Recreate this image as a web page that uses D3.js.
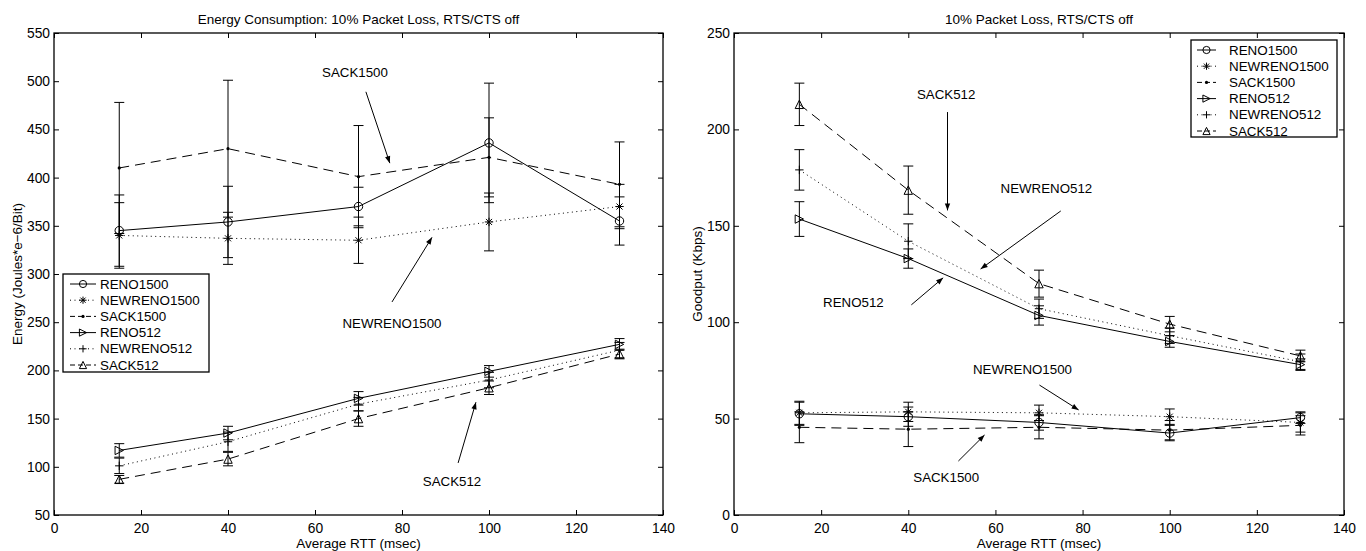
<!DOCTYPE html>
<html>
<head>
<meta charset="utf-8">
<script src="https://cdn.jsdelivr.net/npm/d3@7"></script>
<style>
  html, body { margin: 0; padding: 0; background: #fff; }
  svg { display: block; font-family: "Liberation Sans", Arial, sans-serif; }
</style>
</head>
<body>
<svg id="chart" width="1366" height="551"></svg>
<script>
// ---------------- DATA ----------------
const rtt = [15, 40, 70, 100, 130];
const seriesNames = ["RENO1500", "NEWRENO1500", "SACK1500", "RENO512", "NEWRENO512", "SACK512"];
const xTicks = [0, 20, 40, 60, 80, 100, 120, 140];
const energyTicks = [50, 100, 150, 200, 250, 300, 350, 400, 450, 500, 550];
const goodputTicks = [0, 50, 100, 150, 200, 250];

// Energy (Joules*e-6/Bit) mean and error half-width
const energyReno1500 = [345, 354, 370, 436, 355];
const energyReno1500Err = [37, 37, 20, 62, 25];
const energyNewreno1500 = [340, 337, 335, 354, 370];
const energyNewreno1500Err = [34, 27, 24, 30, 23];
const energySack1500 = [410, 430, 401, 421, 393];
const energySack1500Err = [68, 71, 53, 41, 44];
const energyReno512 = [117, 135, 171, 199, 227];
const energyReno512Err = [7, 7, 7, 6, 6];
const energyNewreno512 = [101, 126, 165, 190, 221];
const energyNewreno512Err = [8, 10, 7, 8, 8];
const energySack512 = [87, 108, 150, 182, 217];
const energySack512Err = [4, 7, 8, 7, 5];

// Goodput (Kbps) mean and error half-width
const goodReno1500 = [52.5, 51, 48, 42.5, 50.5];
const goodReno1500Err = [6, 5, 4, 4, 3];
const goodNewreno1500 = [53, 53.5, 53, 51, 48];
const goodNewreno1500Err = [6, 5, 4, 4, 5];
const goodSack1500 = [45.5, 44.5, 45.5, 44, 46.5];
const goodSack1500Err = [8, 9, 6, 5, 5];
const goodReno512 = [153.5, 133, 103.5, 90, 78];
const goodReno512Err = [9, 5, 5, 3, 3];
const goodNewreno512 = [179, 142, 107, 93, 79.5];
const goodNewreno512Err = [10.5, 9, 5, 4, 4];
const goodSack512 = [213, 168.5, 120, 99, 82.5];
const goodSack512Err = [11, 12.5, 7, 4, 3];

// Annotations (data coordinates): label, text x,y, arrow from x,y to x,y
const energyNotes = [
  { label: "SACK1500", tx: 69.2, ty: 509, x1: 71.7, y1: 489, x2: 77.2, y2: 415 },
  { label: "NEWRENO1500", tx: 77.7, ty: 249, x1: 77.7, y1: 271, x2: 86.9, y2: 338 },
  { label: "SACK512", tx: 91.5, ty: 85, x1: 92.9, y1: 104, x2: 97, y2: 167 }
];
const goodNotes = [
  { label: "SACK512", tx: 48.7, ty: 218, x1: 49, y1: 209, x2: 49, y2: 158 },
  { label: "NEWRENO512", tx: 71.7, ty: 169.6, x1: 75, y1: 157.7, x2: 56.6, y2: 127.6 },
  { label: "RENO512", tx: 27.4, ty: 110.5, x1: 40.7, y1: 109, x2: 48, y2: 123 },
  { label: "NEWRENO1500", tx: 66.2, ty: 75.7, x1: 70.1, y1: 67.4, x2: 79.1, y2: 54.5 },
  { label: "SACK1500", tx: 48.7, ty: 19.7, x1: 51.5, y1: 28, x2: 57.5, y2: 41.5 }
];

// ---------------- STYLES ----------------
const lineDash = { RENO: null, NEWRENO: "1,3.5", SACK: "10,6" };
const markerOf = {
  RENO1500: "circle", NEWRENO1500: "star", SACK1500: "dot",
  RENO512: "tri-right", NEWRENO512: "plus", SACK512: "tri-up"
};
function dashOf(name) {
  if (name.startsWith("NEWRENO")) return lineDash.NEWRENO;
  if (name.startsWith("SACK")) return lineDash.SACK;
  return lineDash.RENO;
}
const FONT = '"Liberation Sans", Arial, sans-serif';

const svg = d3.select("#chart");
const defs = svg.append("defs");
defs.append("marker").attr("id", "arrowhead")
  .attr("viewBox", "0 0 10 10").attr("refX", 10).attr("refY", 5)
  .attr("markerWidth", 10).attr("markerHeight", 7).attr("markerUnits", "userSpaceOnUse")
  .attr("orient", "auto")
  .append("path").attr("d", "M0,1.2 L10,5 L0,8.8 Z").attr("fill", "#000");

function drawMarker(g, type, cx, cy, s) {
  s = s || 4.2;
  const m = g.append("g").attr("transform", `translate(${cx},${cy})`);
  const apply = sel => sel.attr("fill", "none").attr("stroke", "#000").attr("stroke-width", 1);
  if (type === "circle") {
    apply(m.append("circle").attr("r", s));
  } else if (type === "dot") {
    m.append("circle").attr("r", 1.6).attr("fill", "#000");
  } else if (type === "star") {
    apply(m.append("path").attr("d",
      `M${-s},0L${s},0M0,${-s}L0,${s}M${-s*0.72},${-s*0.72}L${s*0.72},${s*0.72}M${-s*0.72},${s*0.72}L${s*0.72},${-s*0.72}`));
  } else if (type === "plus") {
    apply(m.append("path").attr("d", `M${-s},0L${s},0M0,${-s}L0,${s}`));
  } else if (type === "tri-right") {
    apply(m.append("path").attr("d", `M${-s},${-s}L${s},0L${-s},${s}Z`));
  } else if (type === "tri-up") {
    apply(m.append("path").attr("d", `M0,${-s}L${s},${s}L${-s},${s}Z`));
  }
}

function drawPanel(opt) {
  const { left, right, top, bottom, yDomain, yTicks, title, yLabel, series, notes, legend } = opt;
  const x = d3.scaleLinear().domain([0, 140]).range([left, right]);
  const y = d3.scaleLinear().domain(yDomain).range([bottom, top]);
  const g = svg.append("g");

  // axes with inward ticks on all four sides
  const tickLen = 5;
  const axB = d3.axisBottom(x).tickValues(xTicks).tickSizeInner(-tickLen).tickSizeOuter(0).tickPadding(8);
  const axT = d3.axisTop(x).tickValues(xTicks).tickSizeInner(-tickLen).tickSizeOuter(0).tickFormat("");
  const axL = d3.axisLeft(y).tickValues(yTicks).tickSizeInner(-tickLen).tickSizeOuter(0).tickPadding(4);
  const axR = d3.axisRight(y).tickValues(yTicks).tickSizeInner(-tickLen).tickSizeOuter(0).tickFormat("");

  const styleAxis = sel => {
    sel.select(".domain").remove();
    sel.selectAll("line").attr("stroke", "#000").attr("stroke-width", 1);
    sel.selectAll("text").attr("fill", "#000").style("font-size", "13.8px").style("font-family", FONT);
  };
  g.append("g").attr("transform", `translate(0,${bottom})`).call(axB).call(styleAxis);
  g.append("g").attr("transform", `translate(0,${top})`).call(axT).call(styleAxis);
  g.append("g").attr("transform", `translate(${left},0)`).call(axL).call(styleAxis);
  g.append("g").attr("transform", `translate(${right},0)`).call(axR).call(styleAxis);

  // box
  g.append("rect").attr("x", left).attr("y", top).attr("width", right - left).attr("height", bottom - top)
    .attr("fill", "none").attr("stroke", "#000").attr("stroke-width", 1.3);

  // title & labels
  g.append("text").attr("x", (left + right) / 2).attr("y", 23.5).attr("text-anchor", "middle")
    .style("font-size", "13.5px").text(title);
  g.append("text").attr("x", (left + right) / 2).attr("y", 548).attr("text-anchor", "middle")
    .style("font-size", "13.5px").text("Average RTT (msec)");
  g.append("text").attr("transform", `translate(${left - 37},${(top + bottom) / 2}) rotate(-90)`)
    .attr("text-anchor", "middle").attr("dy", "0.35em").style("font-size", "13.5px").text(yLabel);

  // series: lines, error bars, markers
  const line = d3.line().x(d => x(d.x)).y(d => y(d.y));
  series.forEach(s => {
    const pts = rtt.map((r, i) => ({ x: r, y: s.values[i], e: s.errs[i] }));
    const sg = g.append("g");
    pts.forEach(p => {
      const cx = x(p.x), cw = 5;
      sg.append("path")
        .attr("d", `M${cx},${y(p.y - p.e)}L${cx},${y(p.y + p.e)}M${cx - cw},${y(p.y + p.e)}L${cx + cw},${y(p.y + p.e)}M${cx - cw},${y(p.y - p.e)}L${cx + cw},${y(p.y - p.e)}`)
        .attr("stroke", "#000").attr("stroke-width", 1).attr("fill", "none");
    });
    sg.append("path").datum(pts).attr("d", line).attr("fill", "none").attr("stroke", "#000")
      .attr("stroke-width", 1).attr("stroke-dasharray", dashOf(s.name));
    pts.forEach(p => drawMarker(sg, markerOf[s.name], x(p.x), y(p.y)));
  });

  // annotations
  notes.forEach(n => {
    g.append("text").attr("x", x(n.tx)).attr("y", y(n.ty)).attr("text-anchor", "middle")
      .attr("dy", "0.35em").style("font-size", "13.3px").text(n.label);
    g.append("line").attr("x1", x(n.x1)).attr("y1", y(n.y1)).attr("x2", x(n.x2)).attr("y2", y(n.y2))
      .attr("stroke", "#000").attr("stroke-width", 1).attr("marker-end", "url(#arrowhead)");
  });

  // legend
  const lg = g.append("g");
  lg.append("rect").attr("x", legend.x).attr("y", legend.y).attr("width", legend.w).attr("height", legend.h)
    .attr("fill", "#fff").attr("stroke", "#000").attr("stroke-width", 1.3);
  seriesNames.forEach((name, i) => {
    const yy = legend.y + 10 + i * 16.2;
    lg.append("line").attr("x1", legend.sx1).attr("x2", legend.sx2).attr("y1", yy).attr("y2", yy)
      .attr("stroke", "#000").attr("stroke-width", 1)
      .attr("stroke-dasharray", name.startsWith("SACK") ? "5,3" : dashOf(name));
    drawMarker(lg, markerOf[name], (legend.sx1 + legend.sx2) / 2, yy, 3.6);
    lg.append("text").attr("x", legend.tx).attr("y", yy).attr("dy", "0.35em")
      .style("font-size", "13.4px").text(name);
  });
}

drawPanel({
  left: 54, right: 663, top: 33, bottom: 515,
  yDomain: [50, 550], yTicks: energyTicks,
  title: "Energy Consumption: 10% Packet Loss, RTS/CTS off",
  yLabel: "Energy (Joules*e\u22126/Bit)",
  series: [
    { name: "RENO1500", values: energyReno1500, errs: energyReno1500Err },
    { name: "NEWRENO1500", values: energyNewreno1500, errs: energyNewreno1500Err },
    { name: "SACK1500", values: energySack1500, errs: energySack1500Err },
    { name: "RENO512", values: energyReno512, errs: energyReno512Err },
    { name: "NEWRENO512", values: energyNewreno512, errs: energyNewreno512Err },
    { name: "SACK512", values: energySack512, errs: energySack512Err }
  ],
  notes: energyNotes,
  legend: { x: 63, y: 274, w: 146, h: 98, sx1: 70, sx2: 96, tx: 100 }
});

drawPanel({
  left: 734, right: 1344, top: 33, bottom: 515,
  yDomain: [0, 250], yTicks: goodputTicks,
  title: "10% Packet Loss, RTS/CTS off",
  yLabel: "Goodput (Kbps)",
  series: [
    { name: "RENO1500", values: goodReno1500, errs: goodReno1500Err },
    { name: "NEWRENO1500", values: goodNewreno1500, errs: goodNewreno1500Err },
    { name: "SACK1500", values: goodSack1500, errs: goodSack1500Err },
    { name: "RENO512", values: goodReno512, errs: goodReno512Err },
    { name: "NEWRENO512", values: goodNewreno512, errs: goodNewreno512Err },
    { name: "SACK512", values: goodSack512, errs: goodSack512Err }
  ],
  notes: goodNotes,
  legend: { x: 1191, y: 40, w: 146, h: 97, sx1: 1197, sx2: 1216, tx: 1229 }
});
</script>
</body>
</html>
